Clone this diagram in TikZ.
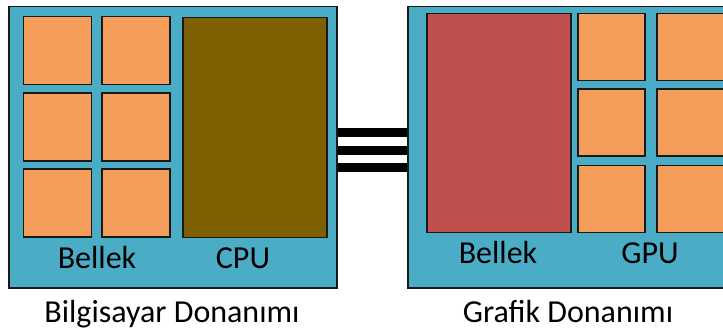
\documentclass[tikz,border=0pt]{standalone}
\usepackage{fontspec}
\setmainfont{Carlito}
\usetikzlibrary{positioning}
\definecolor{boardc}{RGB}{75,172,198}
\definecolor{cellc}{RGB}{245,157,90}
\definecolor{cpuc}{RGB}{127,96,0}
\definecolor{vramc}{RGB}{192,80,77}
\definecolor{edgec}{RGB}{25,25,25}

\begin{document}
\begin{tikzpicture}[x=1pt,y=-1pt,font=\fontsize{32}{36}\selectfont,
  board/.style={draw=edgec,fill=boardc,line width=1.5pt,anchor=north west,inner sep=0pt},
  cell/.style={draw=edgec,fill=cellc,line width=1.5pt,minimum size=68pt,inner sep=0pt},
  unit/.style={draw=edgec,line width=1.5pt,anchor=north west,inner sep=0pt},
  bus/.style={black,line width=9pt},
  lbl/.style={anchor=base,inner sep=0pt}]
  \clip (0,0) rectangle (723,331);
  % host side
  \node[board,minimum width=328pt,minimum height=281pt] (host) at (8,6) {};
  \foreach \r/\y in {1/50.5,2/127,3/203}
    \foreach \c/\x in {1/57.5,2/136}
      \node[cell] (hm-\r-\c) at (\x,\y) {};
  \node[unit,fill=cpuc,minimum width=144pt,minimum height=220pt] (cpu) at (182,17) {};
  \node[lbl] (hmtext) at (97,269) {Bellek};
  \node[lbl] (cputext) at (243,269) {CPU};
  \node[lbl] (hosttext) at (172,322) {Bilgisayar Donanımı};
  % graphics side
  \node[board,minimum width=328pt,minimum height=281pt] (dev) at (407,6) {};
  \node[unit,fill=vramc,minimum width=144pt,minimum height=219pt] (vram) at (426,13) {};
  \foreach \r/\y in {1/47,2/122.5,3/199}
    \foreach \c/\x in {1/611.5,2/690.5}
      \node[cell,minimum size=67pt] (gm-\r-\c) at (\x,\y) {};
  \node[lbl] (vramtext) at (498,264) {Bellek};
  \node[lbl] (gputext) at (650,264) {GPU};
  \node[lbl] (devtext) at (568,322) {Grafik Donanımı};
  % bus
  \foreach \y in {133,151,168}
    \draw[bus] (host.east |- 0,\y) -- (dev.west |- 0,\y);
\end{tikzpicture}
\end{document}
